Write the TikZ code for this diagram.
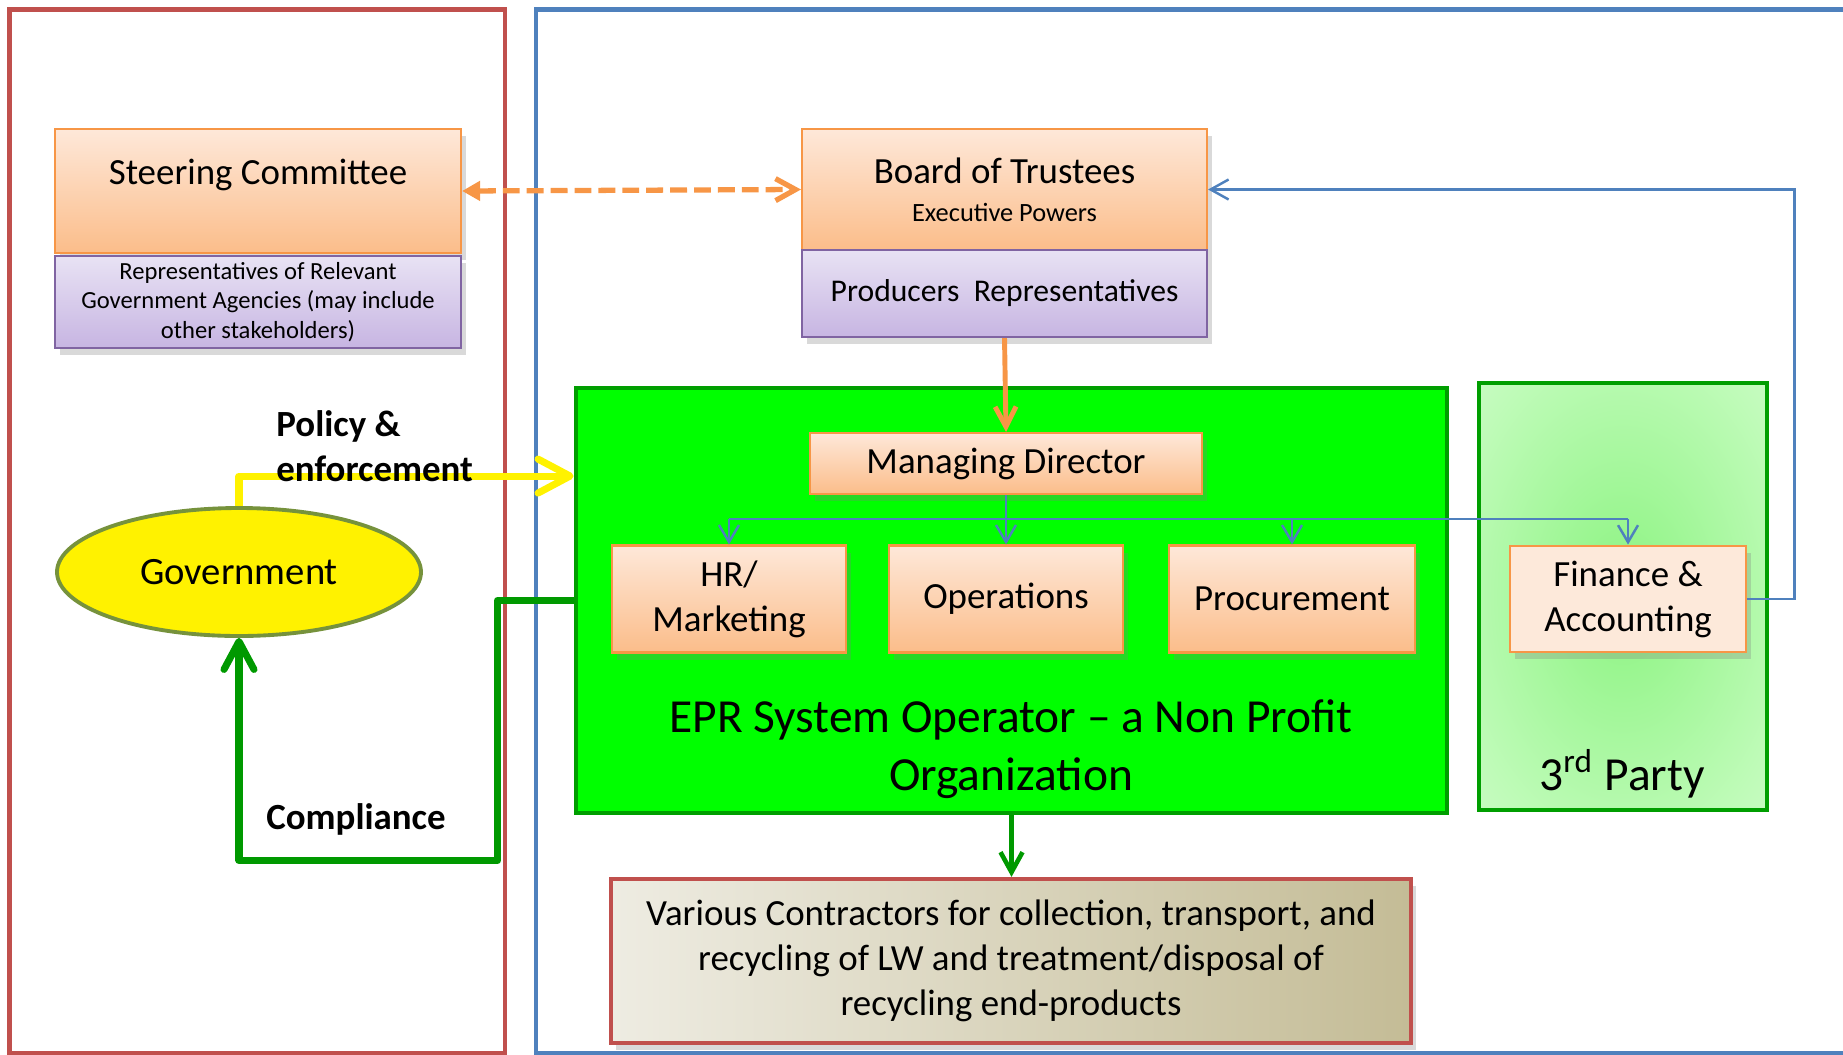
\documentclass[tikz,border=0pt]{standalone}
\usepackage{fontspec}
\setmainfont{Carlito}
\usetikzlibrary{arrows.meta, shapes.geometric, shadows}

\definecolor{frameRed}{HTML}{C0504D}
\definecolor{frameBlue}{HTML}{4F81BD}
\definecolor{lineOrange}{HTML}{F79646}
\definecolor{orTop}{HTML}{FEE8D9}
\definecolor{orBot}{HTML}{FBBD8A}
\definecolor{puTop}{HTML}{E8E2F4}
\definecolor{puBot}{HTML}{C7B5E2}
\definecolor{puLine}{HTML}{8064A2}
\definecolor{eprGreen}{HTML}{00FF00}
\definecolor{boxGreen}{HTML}{009E00}
\definecolor{linkGreen}{HTML}{009900}
\definecolor{thirdIn}{HTML}{96F58C}
\definecolor{thirdMid}{HTML}{BEFBB7}
\definecolor{thirdOut}{HTML}{DCFDD9}
\definecolor{finFill}{HTML}{FDE9DA}
\definecolor{govLine}{HTML}{76923C}
\definecolor{contrLeft}{HTML}{EEECE2}
\definecolor{contrRight}{HTML}{C4BC96}

% soft glow for the third party panel
\pgfdeclareradialshading{thirdglow}{\pgfpoint{0bp}{0bp}}{%
  color(0bp)=(thirdIn); color(6bp)=(thirdIn); color(30bp)=(thirdMid); color(50bp)=(thirdOut)}

\begin{document}
\begin{tikzpicture}[x=1cm, y=-1cm,
  every node/.style={font=\fontsize{10.5}{12.8}\selectfont},
  softshadow/.style={drop shadow={opacity=0.3, shadow xshift=0.5mm, shadow yshift=-0.7mm}},
  orbox/.style={draw=lineOrange, line width=0.6pt, top color=orTop, bottom color=orBot,
    inner sep=0pt, align=center, softshadow},
  pubox/.style={draw=puLine, line width=0.6pt, top color=puTop, bottom color=puBot,
    inner sep=0pt, align=center, softshadow},
  greenbox/.style={draw=boxGreen, line width=1.4pt, inner sep=0pt},
  tree/.style={draw=frameBlue, line width=0.7pt},
  big/.style={font=\fontsize{13.5}{16.4}\selectfont, align=center},
  bold/.style={font=\fontsize{10.5}{12.8}\selectfont\bfseries}]

  \useasboundingbox (0,0) rectangle (18.43,10.54);

  % the two domains
  \draw[frameRed, line width=1.3pt] (0.094,0.094) rectangle (5.05,10.53);
  \draw[frameBlue, line width=1.3pt] (5.36,0.094) rectangle (18.8,10.53);

  % governing bodies
  \node[orbox, minimum width=4.06cm, minimum height=1.24cm] (steer) at (2.58,1.91) {};
  \node (steerTitle) at (2.58,1.75) {Steering Committee};
  \node[pubox, minimum width=4.06cm, minimum height=0.92cm, font=\fontsize{7}{8.4}\selectfont]
    (steerRep) at (2.58,3.02) {Representatives of Relevant\\Government Agencies (may include\\other stakeholders)};

  \node[orbox, minimum width=4.05cm, minimum height=1.21cm] (board) at (10.045,1.895)
    {Board of Trustees\\[-2pt]{\fontsize{7.5}{9}\selectfont Executive Powers}};
  \node[pubox, minimum width=4.05cm, minimum height=0.87cm, font=\fontsize{9}{11}\selectfont]
    (boardRep) at (10.045,2.935) {Producers\ \ Representatives};

  % operator and its departments
  \node[greenbox, fill=eprGreen, minimum width=8.71cm, minimum height=4.25cm] (epr) at (10.115,6.005) {};
  \node[big] (eprLabel) at (10.11,7.49) {EPR System Operator -- a Non Profit\\Organization};
  \node[orbox, minimum width=3.92cm, minimum height=0.61cm] (md) at (10.06,4.635) {Managing Director};
  \node[orbox, minimum width=2.34cm, minimum height=1.07cm] (hr) at (7.29,5.99) {HR/\\Marketing};
  \node[orbox, minimum width=2.34cm, minimum height=1.07cm] (ops) at (10.06,5.99) {Operations};
  \node[orbox, minimum width=2.46cm, minimum height=1.07cm] (proc) at (12.92,5.99) {Procurement};

  % outsourced finance
  \node[greenbox, shading=thirdglow, minimum width=2.88cm, minimum height=4.27cm]
    (third) at (16.23,5.965) {};
  \node[big] (thirdLabel) at (16.22,7.74) {3\textsuperscript{rd} Party};
  \node[draw=lineOrange, line width=0.8pt, fill=finFill, inner sep=0pt, align=center, softshadow,
    minimum width=2.36cm, minimum height=1.06cm] (fin) at (16.28,5.99) {Finance \&\\Accounting};

  \node[ellipse, draw=govLine, line width=1.1pt, fill=yellow, minimum width=3.64cm, minimum height=1.28cm,
    font=\fontsize{11}{13}\selectfont] (govt) at (2.39,5.72) {Government};

  \node[draw=frameRed, line width=1.2pt, left color=contrLeft, right color=contrRight, softshadow,
    minimum width=8.00cm, minimum height=1.64cm, align=center] (contr) at (10.11,9.61)
    {Various Contractors for collection, transport, and\\recycling of LW and treatment/disposal of\\recycling end-products};

  % links
  \draw[lineOrange, line width=1.5pt, dash pattern=on 4.8pt off 2pt,
    {Triangle[length=1.8mm, width=1.9mm]}-{Straight Barb[length=2mm, width=2.2mm]}] (steer.east) -- (board.west);
  \draw[lineOrange, line width=1.4pt, -{Straight Barb[length=2mm, width=2.1mm]}] (boardRep.south) -- (md.north);

  \draw[tree] (md.south) -- ++(0,0.24) coordinate (split);
  \draw[tree] (split -| hr.north) -- (split -| fin.north);
  \foreach \dept in {hr,ops,proc,fin}
    \draw[tree, -{Straight Barb[length=1.7mm, width=2mm]}] (split -| \dept.north) -- (\dept.north);
  \draw[tree, -{Straight Barb[length=1.8mm, width=2mm]}] (fin.east) -- ++(0.47,0) |- (board.east);

  \draw[linkGreen, line width=1.3pt, -{Straight Barb[length=2mm, width=2.2mm]}] (epr.south) -- (epr.south |- contr.north);

  \draw[yellow, line width=2pt, line join=round, -{Straight Barb[length=3.2mm, width=3.4mm, round]}]
    (govt.north) -- ++(0,-0.30) coordinate (polBend) -- (polBend -| epr.west);
  \draw[linkGreen, line width=2pt, line join=round, -{Straight Barb[length=2.8mm, width=3mm, round]}]
    (epr.west) -- ++(-0.76,0) -- ++(0,2.60) -| (govt.south);

  \node[bold, align=left, anchor=base west] (policyLbl) at (2.64,4.81) {Policy \&\\enforcement};
  \node[bold] (complyLbl) at (3.56,8.19) {Compliance};
\end{tikzpicture}
\end{document}
